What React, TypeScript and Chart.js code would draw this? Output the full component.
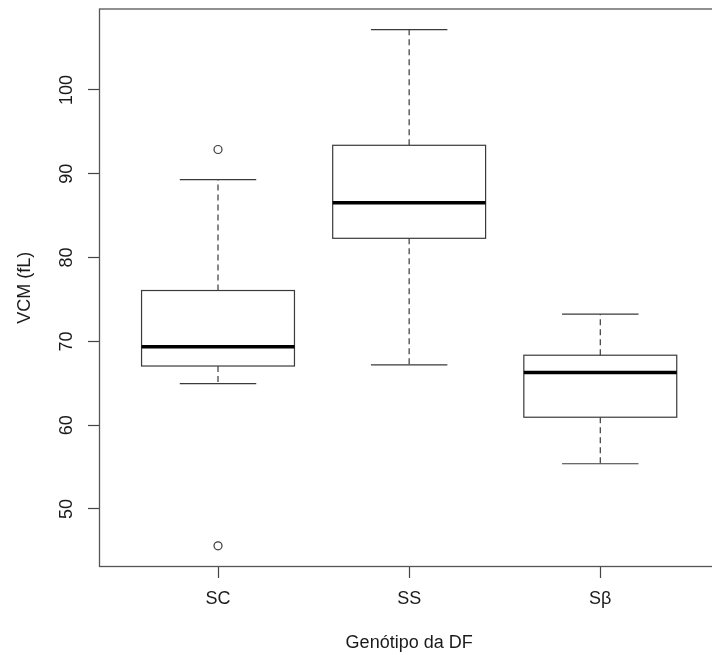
import React, { useEffect, useRef } from 'react';
import { Chart, registerables } from 'chart.js';

Chart.register(...registerables);

// ---- data ----
const CATEGORIES = ['SC', 'SS', 'Sβ'];
const WHISKER_LOW = [64.96, 67.2, 55.4];
const Q1 = [67.06, 82.3, 60.95];
const MEDIAN = [69.35, 86.55, 66.3];
const Q3 = [76.07, 93.4, 68.35];
const WHISKER_HIGH = [89.3, 107.2, 73.25];
const OUTLIER_GROUP = [0, 0];
const OUTLIER_VALUES = [92.9, 45.6];
const Y_TICKS = [50, 60, 70, 80, 90, 100];
const X_TITLE = 'Genótipo da DF';
const Y_TITLE = 'VCM (fL)';

// ---- style constants ----
const FONT = "'Liberation Sans', Arial, Helvetica, sans-serif";
const TEXT = '#1a1a1a';
const LINE = '#3a3a3a';
const FRAME = '#555555';
const BOX_HALF = 0.4;
const CAP_HALF = 0.2;

const boxPlugin = {
  id: 'rboxes',
  beforeDatasetsDraw(chart: any) {
    const { ctx, scales } = chart;
    const x = scales.x;
    const y = scales.y;
    ctx.save();
    CATEGORIES.forEach((_, i) => {
      const pos = i + 1;
      const xc = x.getPixelForValue(pos);
      const xl = x.getPixelForValue(pos - BOX_HALF);
      const xr = x.getPixelForValue(pos + BOX_HALF);
      const cl = x.getPixelForValue(pos - CAP_HALF);
      const cr = x.getPixelForValue(pos + CAP_HALF);
      const yLo = y.getPixelForValue(WHISKER_LOW[i]);
      const yQ1 = y.getPixelForValue(Q1[i]);
      const yMed = y.getPixelForValue(MEDIAN[i]);
      const yQ3 = y.getPixelForValue(Q3[i]);
      const yHi = y.getPixelForValue(WHISKER_HIGH[i]);

      ctx.strokeStyle = LINE;
      ctx.lineWidth = 1.2;
      ctx.setLineDash([6, 4]);
      ctx.beginPath();
      ctx.moveTo(xc, yQ1);
      ctx.lineTo(xc, yLo);
      ctx.moveTo(xc, yQ3);
      ctx.lineTo(xc, yHi);
      ctx.stroke();
      ctx.setLineDash([]);

      ctx.beginPath();
      ctx.moveTo(cl, yLo);
      ctx.lineTo(cr, yLo);
      ctx.moveTo(cl, yHi);
      ctx.lineTo(cr, yHi);
      ctx.stroke();

      ctx.strokeRect(xl, yQ3, xr - xl, yQ1 - yQ3);

      ctx.strokeStyle = '#000';
      ctx.lineWidth = 3.5;
      ctx.beginPath();
      ctx.moveTo(xl, yMed);
      ctx.lineTo(xr, yMed);
      ctx.stroke();
    });
    ctx.restore();
  },
  afterDraw(chart: any) {
    const { ctx, chartArea, scales } = chart;
    const y = scales.y;
    ctx.save();
    ctx.strokeStyle = FRAME;
    ctx.lineWidth = 1.3;
    ctx.strokeRect(chartArea.left, chartArea.top, chartArea.right - chartArea.left, chartArea.bottom - chartArea.top);
    ctx.fillStyle = TEXT;
    ctx.font = `18px ${FONT}`;
    ctx.textAlign = 'center';
    ctx.textBaseline = 'middle';
    Y_TICKS.forEach((v) => {
      const py = y.getPixelForValue(v);
      ctx.save();
      ctx.translate(chartArea.left - 32.5, py);
      ctx.rotate(-Math.PI / 2);
      ctx.fillText(String(v), 0, 0);
      ctx.restore();
    });
    ctx.restore();
  },
};

export default function App() {
  const ref = useRef<HTMLCanvasElement | null>(null);

  useEffect(() => {
    if (!ref.current) return;
    const all = [...WHISKER_LOW, ...WHISKER_HIGH, ...OUTLIER_VALUES];
    const lo = Math.min(...all);
    const hi = Math.max(...all);
    const ext = 0.04 * (hi - lo);
    const n = CATEGORIES.length;
    const xExt = 0.04 * n;

    const chart = new Chart(ref.current, {
      type: 'scatter',
      data: {
        datasets: [
          {
            label: 'outliers',
            data: OUTLIER_VALUES.map((v, i) => ({ x: OUTLIER_GROUP[i] + 1, y: v })),
            pointStyle: 'circle',
            pointRadius: 4,
            pointBorderWidth: 1.2,
            pointBorderColor: LINE,
            pointBackgroundColor: 'rgba(0,0,0,0)',
            borderColor: LINE,
            backgroundColor: 'rgba(0,0,0,0)',
          },
        ],
      },
      options: {
        animation: false,
        responsive: false,
        devicePixelRatio: 1,
        events: [],
        layout: { padding: { top: 9, right: 1.4, left: 0, bottom: 0 } },
        plugins: { legend: { display: false }, tooltip: { enabled: false } },
        scales: {
          x: {
            type: 'linear',
            min: 0.5 - xExt,
            max: n + 0.5 + xExt,
            afterBuildTicks: (s: any) => {
              s.ticks = CATEGORIES.map((_, i) => ({ value: i + 1 }));
            },
            afterFit: (s: any) => {
              s.height = 655 - 566.5;
            },
            grid: {
              display: true,
              drawOnChartArea: false,
              drawTicks: true,
              tickLength: 11.5,
              tickColor: '#444',
              tickWidth: 1.2,
            },
            border: { display: false },
            ticks: {
              autoSkip: false,
              maxRotation: 0,
              minRotation: 0,
              padding: 10.3,
              color: TEXT,
              font: { size: 18, family: FONT },
              callback: (v: any) => CATEGORIES[Math.round(Number(v)) - 1] ?? '',
            },
            title: {
              display: true,
              text: X_TITLE,
              color: TEXT,
              font: { size: 18, family: FONT },
              padding: { top: 0, bottom: 1.2 },
            },
          },
          y: {
            type: 'linear',
            min: lo - ext,
            max: hi + ext,
            afterBuildTicks: (s: any) => {
              s.ticks = Y_TICKS.map((v) => ({ value: v }));
            },
            afterFit: (s: any) => {
              s.width = 99.5;
            },
            grid: {
              display: true,
              drawOnChartArea: false,
              drawTicks: true,
              tickLength: 11.5,
              tickColor: '#444',
              tickWidth: 1.2,
            },
            border: { display: false },
            ticks: { display: false },
            title: {
              display: true,
              text: Y_TITLE,
              color: TEXT,
              font: { size: 18, family: FONT },
              padding: { top: 14.7, bottom: 0 },
            },
          },
        },
      },
      plugins: [boxPlugin],
    } as any);

    return () => chart.destroy();
  }, []);

  return (
    <div
      style={{
        position: 'absolute',
        left: 0,
        top: 0,
        width: 712,
        height: 655,
        overflow: 'hidden',
        background: '#ffffff',
      }}
    >
      <canvas ref={ref} width={724} height={655} style={{ display: 'block' }} />
    </div>
  );
}
